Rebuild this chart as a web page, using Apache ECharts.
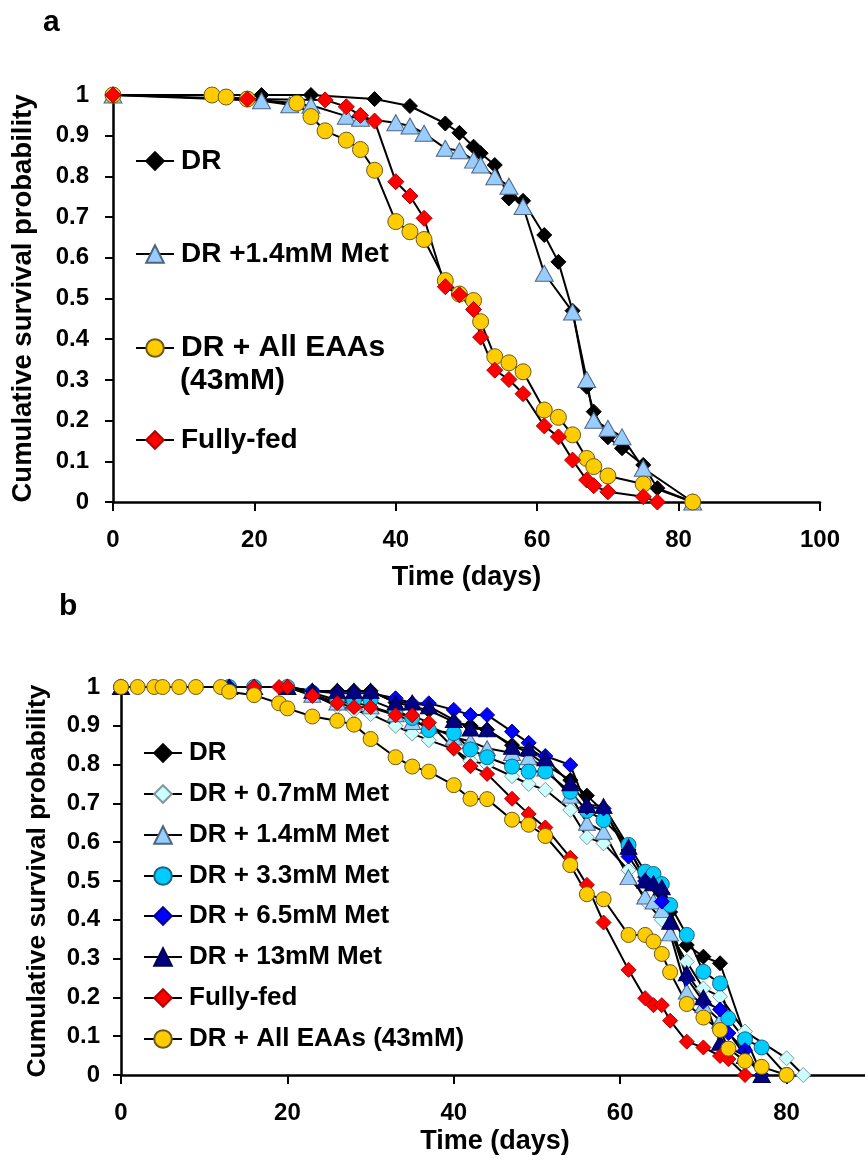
<!DOCTYPE html>
<html>
<head>
<meta charset="utf-8">
<script src="https://cdn.jsdelivr.net/npm/echarts@6/dist/echarts.min.js"></script>
<style>
  html, body { margin: 0; padding: 0; background: #fff; }
  #chart { width: 865px; height: 1160px; }
</style>
</head>
<body>
<div id="chart"></div>
<script>
// 面板 a 数据 (days / survival)
const aDrDays = [0, 21, 28, 37, 42, 47, 49, 51, 52, 54, 56, 58, 61, 63, 65, 67, 68, 70, 72, 75, 77, 82];
const aDrSurv = [1, 1, 1, 0.99, 0.973, 0.93, 0.907, 0.873, 0.857, 0.828, 0.746, 0.74, 0.656, 0.59, 0.47, 0.283, 0.222, 0.159, 0.132, 0.091, 0.034, 0];
const aMet14Days = [0, 21, 25, 28, 33, 35, 40, 42, 44, 47, 49, 51, 52, 54, 56, 58, 61, 65, 67, 68, 70, 72, 75, 82];
const aMet14Surv = [1, 0.986, 0.976, 0.975, 0.948, 0.943, 0.932, 0.924, 0.906, 0.869, 0.863, 0.84, 0.828, 0.799, 0.776, 0.726, 0.562, 0.467, 0.301, 0.201, 0.181, 0.16, 0.083, 0];
const aEaaDays = [0, 14, 16, 19, 26, 28, 30, 33, 35, 37, 40, 42, 44, 47, 49, 51, 52, 54, 56, 58, 61, 63, 65, 67, 68, 70, 75, 82];
const aEaaSurv = [1, 1, 0.995, 0.99, 0.98, 0.947, 0.912, 0.889, 0.866, 0.815, 0.689, 0.664, 0.645, 0.544, 0.511, 0.495, 0.443, 0.357, 0.342, 0.32, 0.226, 0.208, 0.165, 0.107, 0.087, 0.064, 0.044, 0];
const aFedDays = [0, 19, 30, 33, 35, 37, 40, 42, 44, 47, 49, 51, 52, 54, 56, 58, 61, 63, 65, 67, 68, 70, 75, 77];
const aFedSurv = [1, 0.99, 0.988, 0.971, 0.95, 0.936, 0.787, 0.752, 0.697, 0.529, 0.509, 0.473, 0.405, 0.324, 0.301, 0.266, 0.187, 0.16, 0.103, 0.054, 0.04, 0.025, 0.013, 0];

// 面板 b 数据
const bDrDays = [0, 16, 20, 23, 26, 28, 30, 33, 35, 37, 40, 42, 44, 47, 49, 51, 54, 56, 58, 61, 63, 64, 65, 66, 68, 70, 72, 75, 77];
const bDrSurv = [1, 1, 1, 0.99, 0.99, 0.99, 0.99, 0.96, 0.95, 0.94, 0.91, 0.9, 0.89, 0.85, 0.83, 0.8, 0.76, 0.72, 0.68, 0.58, 0.51, 0.5, 0.47, 0.42, 0.335, 0.305, 0.288, 0.1, 0];
const bMet07Days = [0, 13, 16, 20, 23, 26, 28, 30, 33, 35, 37, 40, 42, 44, 47, 49, 51, 54, 56, 58, 61, 63, 65, 68, 70, 72, 75, 80, 82];
const bMet07Surv = [1, 1, 1, 1, 0.98, 0.95, 0.94, 0.93, 0.9, 0.88, 0.863, 0.84, 0.81, 0.8, 0.77, 0.75, 0.735, 0.683, 0.613, 0.597, 0.528, 0.45, 0.4, 0.292, 0.223, 0.202, 0.112, 0.043, 0];
const bMet14Days = [0, 13, 16, 20, 23, 26, 28, 30, 33, 35, 37, 40, 42, 44, 47, 49, 51, 54, 56, 58, 61, 63, 64, 65, 66, 68, 70, 72, 75, 77];
const bMet14Surv = [1, 1, 1, 1, 0.98, 0.96, 0.96, 0.95, 0.93, 0.91, 0.9, 0.87, 0.86, 0.842, 0.83, 0.819, 0.79, 0.72, 0.65, 0.627, 0.51, 0.46, 0.447, 0.425, 0.365, 0.215, 0.18, 0.14, 0.05, 0];
const bMet33Days = [0, 13, 16, 20, 23, 26, 28, 30, 33, 35, 37, 40, 42, 44, 47, 49, 51, 54, 56, 58, 61, 63, 64, 65, 66, 68, 70, 72, 73, 75, 77, 80];
const bMet33Surv = [1, 1, 1, 1, 0.985, 0.966, 0.966, 0.966, 0.941, 0.92, 0.889, 0.881, 0.839, 0.819, 0.795, 0.782, 0.782, 0.73, 0.681, 0.657, 0.593, 0.524, 0.518, 0.492, 0.438, 0.361, 0.266, 0.236, 0.146, 0.092, 0.071, 0];
const bMet65Days = [0, 13, 16, 20, 23, 26, 28, 30, 33, 35, 37, 40, 42, 44, 47, 49, 51, 54, 56, 58, 61, 63, 65, 68, 70, 72, 73, 75, 77];
const bMet65Surv = [1, 1, 1, 1, 0.99, 0.984, 0.984, 0.984, 0.971, 0.958, 0.958, 0.941, 0.928, 0.928, 0.885, 0.856, 0.822, 0.799, 0.69, 0.687, 0.563, 0.5, 0.447, 0.25, 0.189, 0.169, 0.108, 0.064, 0];
const bMet13Days = [0, 13, 16, 20, 23, 26, 28, 30, 33, 35, 37, 40, 42, 44, 47, 49, 51, 54, 56, 58, 61, 63, 64, 65, 66, 68, 70, 72, 75, 77];
const bMet13Surv = [1, 1, 1, 1, 0.99, 0.99, 0.99, 0.99, 0.96, 0.96, 0.95, 0.915, 0.893, 0.891, 0.846, 0.842, 0.816, 0.752, 0.696, 0.693, 0.588, 0.501, 0.494, 0.484, 0.395, 0.262, 0.2, 0.083, 0.049, 0];
const bFedDays = [0, 16, 19, 20, 23, 26, 28, 30, 33, 35, 37, 40, 42, 44, 47, 49, 51, 54, 56, 58, 61, 63, 64, 65, 66, 68, 70, 72, 73, 75];
const bFedSurv = [1, 1, 1, 1, 0.977, 0.958, 0.948, 0.948, 0.927, 0.927, 0.908, 0.842, 0.796, 0.776, 0.712, 0.673, 0.638, 0.56, 0.49, 0.393, 0.271, 0.198, 0.18, 0.18, 0.14, 0.086, 0.071, 0.049, 0.041, 0];
const bEaaDays = [0, 2, 4, 5, 7, 9, 12, 13, 16, 19, 20, 23, 26, 28, 30, 33, 35, 37, 40, 42, 44, 47, 49, 51, 54, 56, 58, 61, 63, 64, 65, 66, 68, 70, 72, 73, 75, 77, 80];
const bEaaSurv = [1, 1, 1, 1, 1, 1, 1, 0.988, 0.979, 0.958, 0.945, 0.924, 0.913, 0.903, 0.866, 0.819, 0.795, 0.782, 0.747, 0.712, 0.711, 0.658, 0.645, 0.616, 0.541, 0.466, 0.453, 0.361, 0.361, 0.344, 0.312, 0.265, 0.183, 0.148, 0.116, 0.068, 0.036, 0.021, 0];

// 坐标轴刻度
const xTicks = [0, 20, 40, 60, 80, 100];

const FONT = "'Liberation Sans', Arial, sans-serif";
const zip = (xs, ys) => xs.map((x, i) => [x, ys[i]]);

// 折线系列
function curve(name, days, surv, idx, symbol, size, fill, border) {
  return {
    name: name,
    type: 'line',
    xAxisIndex: idx,
    yAxisIndex: idx,
    data: zip(days, surv),
    symbol: symbol,
    symbolSize: size,
    showAllSymbol: true,
    animation: false,
    lineStyle: { color: '#000', width: 2 },
    itemStyle: { color: fill, borderColor: border, borderWidth: 1, opacity: 1 },
    emphasis: { disabled: true }
  };
}

function xAxisOf(idx, nameShown) {
  return {
    type: 'value', gridIndex: idx, min: 0, max: 100, interval: 20,
    axisLine: { show: true, onZero: false, lineStyle: { color: '#000', width: 2.5 } },
    axisTick: { show: true, length: 9, lineStyle: { color: '#000', width: 2 } },
    axisLabel: { fontSize: 24, fontWeight: 'bold', color: '#000', fontFamily: FONT, margin: 26,
      customValues: xTicks },
    splitLine: { show: false },
    name: nameShown ? 'Time (days)' : '',
    nameLocation: 'middle', nameGap: 62,
    nameTextStyle: { fontSize: 27, fontWeight: 'bold', color: '#000', fontFamily: FONT }
  };
}

function yAxisOf(idx, gap, margin, nameSize) {
  return {
    type: 'value', gridIndex: idx, min: 0, max: 1, interval: 0.1,
    axisLine: { show: true, lineStyle: { color: '#000', width: 2.5 } },
    axisTick: { show: true, length: 8, lineStyle: { color: '#000', width: 2 } },
    axisLabel: { fontSize: 24, fontWeight: 'bold', color: '#000', fontFamily: FONT, margin: margin },
    splitLine: { show: false },
    name: 'Cumulative survival probability',
    nameLocation: 'middle', nameGap: gap, nameRotate: 90,
    nameTextStyle: { fontSize: nameSize, fontWeight: 'bold', color: '#000', fontFamily: FONT }
  };
}

function legendAt(name, left, midY, fontSize, label) {
  return {
    data: [name],
    left: left, top: midY - 11,
    padding: 0,
    itemWidth: 38, itemHeight: 22,
    itemGap: 0,
    selectedMode: false,
    formatter: label ? () => label : undefined,
    textStyle: { fontSize: fontSize, fontWeight: 'bold', color: '#000', fontFamily: FONT, padding: [0, 0, 0, 2] }
  };
}

const chart = echarts.init(document.getElementById('chart'), null, { renderer: 'canvas' });

const option = {
  backgroundColor: '#fff',
  animation: false,
  grid: [
    { left: 113, top: 95, width: 707, height: 407, outerBoundsMode: 'none' },
    { left: 121, top: 687, width: 832, height: 388, outerBoundsMode: 'none' }
  ],
  xAxis: [xAxisOf(0, true), xAxisOf(1, false)],
  yAxis: [yAxisOf(0, 76, 24, 27.5), yAxisOf(1, 70, 21, 26.5)],
  legend: [
    legendAt('DR', 135, 158, 28),
    legendAt('DR +1.4mM Met', 135, 251, 28),
    legendAt('DR + All EAAs (43mM)', 135, 344, 30, 'DR + All EAAs'),
    legendAt('Fully-fed', 135, 437, 28),
    legendAt('DR ', 143, 751, 26, 'DR'),
    legendAt('DR + 0.7mM Met', 143, 792, 26),
    legendAt('DR + 1.4mM Met', 143, 833, 26),
    legendAt('DR + 3.3mM Met', 143, 874, 26),
    legendAt('DR + 6.5mM Met', 143, 914, 26),
    legendAt('DR + 13mM Met', 143, 955, 26),
    legendAt('Fully-fed ', 143, 996, 26, 'Fully-fed'),
    legendAt('DR + All EAAs (43mM) ', 143, 1037, 26, 'DR + All EAAs (43mM)')
  ],
  graphic: [
    { type: 'text', left: 43, top: 8, style: { text: 'a', fontSize: 30, fontWeight: 'bold', fill: '#000', fontFamily: FONT } },
    { type: 'text', left: 59, top: 592, style: { text: 'b', fontSize: 30, fontWeight: 'bold', fill: '#000', fontFamily: FONT } },
    { type: 'text', left: 180, top: 366, style: { text: '(43mM)', fontSize: 30, fontWeight: 'bold', fill: '#000', fontFamily: FONT } },
    { type: 'text', x: 495, y: 1128, style: { text: 'Time (days)', fontSize: 27, fontWeight: 'bold', fill: '#000', fontFamily: FONT, align: 'center', verticalAlign: 'top' } }
  ],
  series: [
    curve('DR', aDrDays, aDrSurv, 0, 'diamond', 15, '#000000', '#000000'),
    curve('DR +1.4mM Met', aMet14Days, aMet14Surv, 0, 'triangle', [18, 16], '#99ccff', '#4d6680'),
    curve('DR + All EAAs (43mM)', aEaaDays, aEaaSurv, 0, 'circle', 16, '#ffcc00', '#6b5a1a'),
    curve('Fully-fed', aFedDays, aFedSurv, 0, 'diamond', 16, '#ff0000', '#b00000'),

    curve('DR ', bDrDays, bDrSurv, 1, 'diamond', 15, '#000000', '#000000'),
    curve('DR + 0.7mM Met', bMet07Days, bMet07Surv, 1, 'diamond', 15, '#ccffff', '#7f9a9a'),
    curve('DR + 1.4mM Met', bMet14Days, bMet14Surv, 1, 'triangle', [17, 15], '#99ccff', '#4d6680'),
    curve('DR + 3.3mM Met', bMet33Days, bMet33Surv, 1, 'circle', 15, '#00ccff', '#1a6680'),
    curve('DR + 6.5mM Met', bMet65Days, bMet65Surv, 1, 'diamond', 15, '#0000ff', '#00009a'),
    curve('DR + 13mM Met', bMet13Days, bMet13Surv, 1, 'triangle', [17, 15], '#000080', '#000050'),
    curve('Fully-fed ', bFedDays, bFedSurv, 1, 'diamond', 15, '#ff0000', '#b00000'),
    curve('DR + All EAAs (43mM) ', bEaaDays, bEaaSurv, 1, 'circle', 15, '#ffcc00', '#6b5a1a')
  ]
};

chart.setOption(option);
</script>
</body>
</html>
